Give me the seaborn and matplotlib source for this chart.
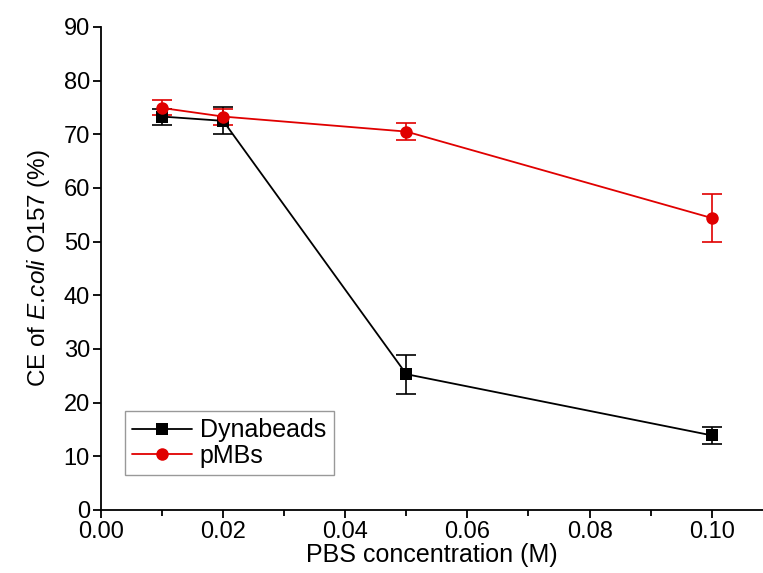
import matplotlib
matplotlib.use("Agg")
import matplotlib.pyplot as plt
import seaborn as sns
import pandas as pd
from matplotlib.ticker import MultipleLocator

# PBS concentration (M)
conc = [0.01, 0.02, 0.05, 0.10]
# capture efficiency (%) and error
dyna_ce = [73.3, 72.5, 25.3, 13.9]
dyna_err = [1.5, 2.5, 3.6, 1.6]
pmb_ce = [74.9, 73.3, 70.5, 54.4]
pmb_err = [1.4, 1.5, 1.6, 4.5]

sns.set_style("ticks")
plt.rcParams['font.family'] = ['Liberation Sans', 'DejaVu Sans']
plt.rcParams['mathtext.fontset'] = 'custom'
plt.rcParams['mathtext.rm'] = 'Liberation Sans'
plt.rcParams['mathtext.it'] = 'Liberation Sans:italic'
plt.rcParams['text.color'] = 'black'
plt.rcParams['axes.labelcolor'] = 'black'
plt.rcParams['xtick.color'] = 'black'
plt.rcParams['ytick.color'] = 'black'

df = pd.DataFrame({
    'conc': conc * 2,
    'ce': dyna_ce + pmb_ce,
    'group': ['Dynabeads'] * 4 + ['pMBs'] * 4,
})

fig = plt.figure(figsize=(7.63, 5.73), dpi=100)
ax = fig.add_axes([0.1324, 0.110, 0.8676, 0.843])

colors = {'Dynabeads': 'black', 'pMBs': '#e00000'}
markers = {'Dynabeads': 's', 'pMBs': 'o'}

# error bars first so the markers sit on top
for name, err in [('Dynabeads', dyna_err), ('pMBs', pmb_err)]:
    sub = df[df.group == name]
    ax.errorbar(sub.conc, sub.ce, yerr=err, fmt='none', ecolor=colors[name],
                elinewidth=1.2, capsize=7, capthick=1.2, zorder=2)

sns.lineplot(data=df, x='conc', y='ce', hue='group', style='group',
             palette=colors, markers=markers, dashes=False,
             markersize=9, linewidth=1.3, markeredgewidth=0, ax=ax, zorder=3)

ax.set_xlim(0, 0.1084)
ax.set_ylim(0, 90)
ax.xaxis.set_major_locator(MultipleLocator(0.02))
ax.xaxis.set_minor_locator(MultipleLocator(0.01))
ax.yaxis.set_major_locator(MultipleLocator(10))
ax.xaxis.set_major_formatter(matplotlib.ticker.FormatStrFormatter('%.2f'))
ax.tick_params(axis='both', which='major', labelsize=17, length=6, width=1.3,
               direction='out', pad=2)
ax.tick_params(axis='x', which='minor', length=4, width=1.3, direction='out')

for s in ['top', 'right']:
    ax.spines[s].set_visible(False)
for s in ['left', 'bottom']:
    ax.spines[s].set_linewidth(1.3)
    ax.spines[s].set_color('black')

ax.set_xlabel('PBS concentration (M)', fontsize=18, labelpad=0)
ax.set_ylabel('CE of $\\mathit{E.\\!coli}$ O157 (%)', fontsize=17.5, labelpad=8)

leg = ax.legend(loc='lower left', bbox_to_anchor=(0.036, 0.072), borderaxespad=0,
                fontsize=18, frameon=True, fancybox=False, handlelength=2.4,
                labelspacing=0.05, handletextpad=0.3, borderpad=0.3)
leg.get_frame().set_edgecolor('#808080')
leg.get_frame().set_linewidth(1.0)
leg.set_title(None)

fig.savefig('out.png', dpi=100)
